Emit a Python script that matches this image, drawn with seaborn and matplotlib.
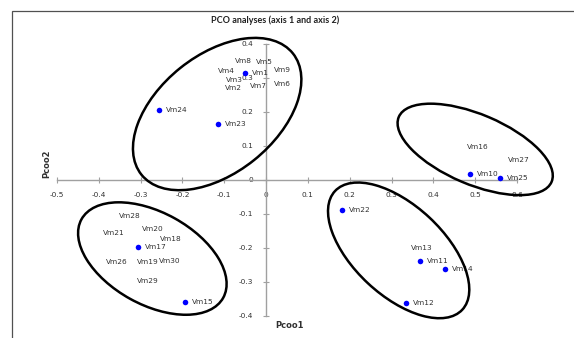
import matplotlib
matplotlib.use("Agg")
import matplotlib.pyplot as plt
import matplotlib.transforms as mtransforms
from matplotlib.patches import Ellipse, Rectangle
import seaborn as sns
import pandas as pd

# ── Data ────────────────────────────────────────────────────────────────────
# points drawn with a marker (label sits to the right)
dot_names = ["Vm1", "Vm24", "Vm23", "Vm17", "Vm15", "Vm22",
             "Vm11", "Vm14", "Vm12", "Vm10", "Vm25"]
dot_x = [-0.050, -0.256, -0.114, -0.307, -0.193, 0.181,
         0.368, 0.429, 0.334, 0.488, 0.560]
dot_y = [0.316, 0.205, 0.164, -0.197, -0.359, -0.088,
         -0.239, -0.261, -0.363, 0.017, 0.005]

# labels shown without a visible marker
txt_names = ["Vm8", "Vm5", "Vm4", "Vm9", "Vm3", "Vm2", "Vm7", "Vm6",
             "Vm28", "Vm20", "Vm21", "Vm18", "Vm26", "Vm19", "Vm30", "Vm29",
             "Vm13", "Vm16", "Vm27"]
txt_x = [-0.053, -0.003, -0.094, 0.038, -0.076, -0.078, -0.019, 0.038,
         -0.325, -0.270, -0.364, -0.227, -0.357, -0.283, -0.230, -0.283,
         0.372, 0.506, 0.605]
txt_y = [0.350, 0.348, 0.321, 0.324, 0.294, 0.271, 0.276, 0.282,
         -0.105, -0.144, -0.157, -0.173, -0.242, -0.242, -0.237, -0.296,
         -0.199, 0.098, 0.059]

# group ellipses: centre (data), semi-axes (px), angle (deg)
ell_cx = [-0.117, -0.272, 0.317, 0.500]
ell_cy = [0.194, -0.231, -0.207, 0.090]
ell_a = [97, 81, 87, 83]
ell_b = [59, 46, 45, 35]
ell_ang = [38.7, -29, -43, -23]

x_ticks = [-0.5, -0.4, -0.3, -0.2, -0.1, 0, 0.1, 0.2, 0.3, 0.4, 0.5, 0.6]
y_ticks = [-0.4, -0.3, -0.2, -0.1, 0, 0.1, 0.2, 0.3, 0.4]

df = pd.DataFrame({"name": dot_names, "x": dot_x, "y": dot_y})

# ── Figure ──────────────────────────────────────────────────────────────────
sns.set_style("white")
plt.rcParams['font.family'] = ['DejaVu Sans']

fig = plt.figure(figsize=(5.74, 3.38), dpi=100)
ax = fig.add_axes([57 / 574, 22 / 338, 460 / 574, 272 / 338])

sns.scatterplot(data=df, x="x", y="y", ax=ax, color="#0000ff", s=16,
                linewidth=0, zorder=3, clip_on=False)

for n, x, y in zip(dot_names, dot_x, dot_y):
    ax.annotate(n, (x, y), xytext=(5, 0), textcoords="offset points",
                ha="left", va="center", fontsize=5.3, color="#303030")
for n, x, y in zip(txt_names, txt_x, txt_y):
    ax.text(x, y, n, ha="center", va="center", fontsize=5.3, color="#303030")

for cx, cy, a, b, ang in zip(ell_cx, ell_cy, ell_a, ell_b, ell_ang):
    tr = mtransforms.ScaledTranslation(cx, cy, ax.transData)
    ax.add_patch(Ellipse((0, 0), 2 * a, 2 * b, angle=ang, transform=tr,
                         fill=False, edgecolor="black", linewidth=1.8,
                         clip_on=False, zorder=4))

ax.set_xlim(-0.5, 0.6)
ax.set_ylim(-0.4, 0.4)
ax.set_xticks(x_ticks)
ax.set_yticks(y_ticks)
ax.set_xticklabels(["-0.5", "-0.4", "-0.3", "-0.2", "-0.1", "0",
                    "0.1", "0.2", "0.3", "0.4", "0.5", "0.6"])
ax.set_yticklabels(["-0.4", "-0.3", "-0.2", "-0.1", "0",
                    "0.1", "0.2", "0.3", "0.4"])

ax.spines["left"].set_position(("data", 0))
ax.spines["bottom"].set_position(("data", 0))
ax.spines["top"].set_visible(False)
ax.spines["right"].set_visible(False)
for s in ("left", "bottom"):
    ax.spines[s].set_color("#a0a0a0")
    ax.spines[s].set_linewidth(1)
ax.tick_params(axis="both", direction="inout", length=5, width=0.8,
               color="#a0a0a0", labelsize=5.3, labelcolor="#303030")
ax.tick_params(axis="x", pad=6, bottom=True)
ax.tick_params(axis="y", pad=7, left=True)
ax.set_facecolor("none")
ax.set_xlabel("")
ax.set_ylabel("")

fig.text(290 / 574, 1 - 325 / 338, "Pcoo1", ha="center", va="center",
         fontsize=6, fontweight="bold", color="#303030")
fig.text(47 / 574, 1 - 164 / 338, "Pcoo2", ha="center", va="center",
         rotation=90, fontsize=6, fontweight="bold", color="#303030")
fig.text(275 / 574, 1 - 20 / 338, "PCO analyses (axis 1 and axis 2)",
         ha="center", va="center", fontsize=6.5, family="Lato",
         fontweight="bold", color="#202020")

fig.patches.append(Rectangle((12 / 574, -0.1), 1.2, 1 - 11 / 338 + 0.1,
                             transform=fig.transFigure, fill=False,
                             edgecolor="#505050", linewidth=0.9))

fig.savefig("out.png", dpi=100)
plt.close()
